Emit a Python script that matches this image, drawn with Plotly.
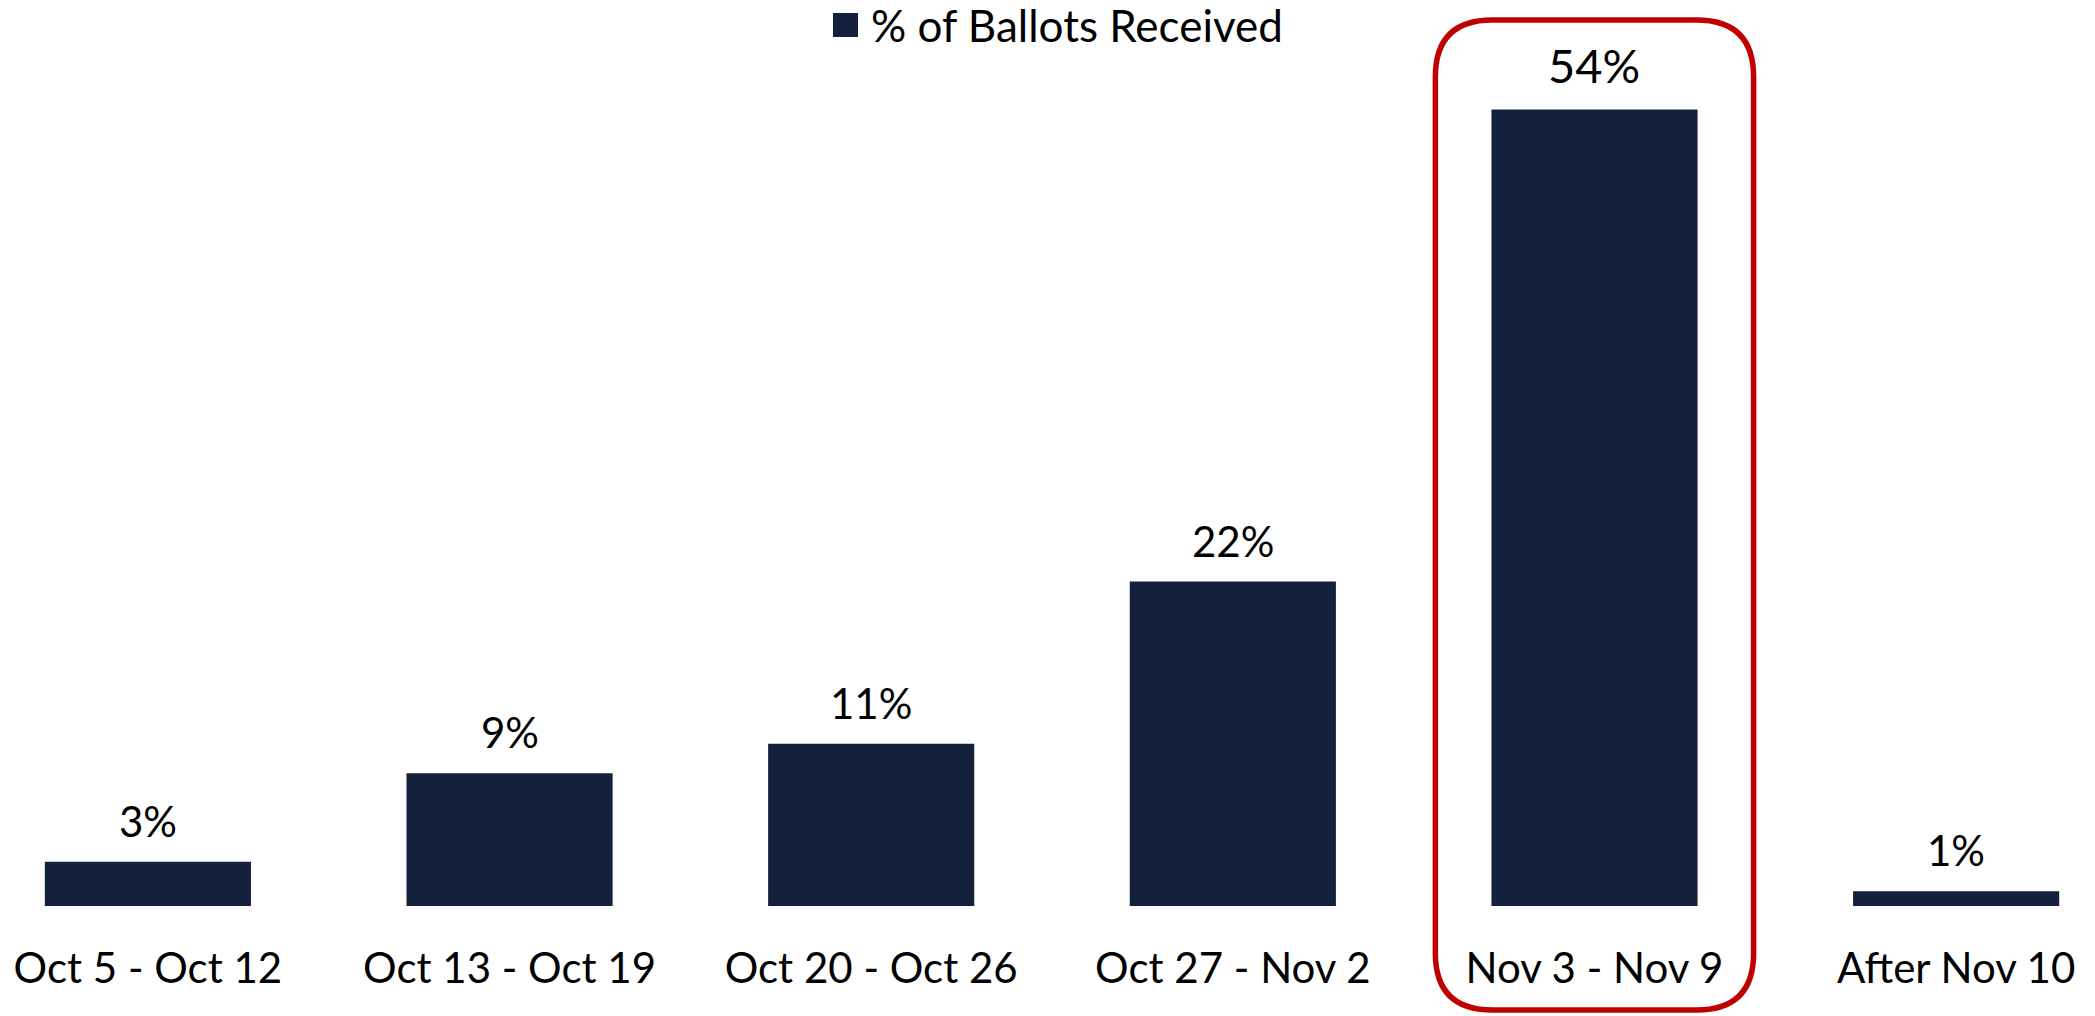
import plotly.graph_objects as go

categories = ["Oct 5 - Oct 12", "Oct 13 - Oct 19", "Oct 20 - Oct 26",
              "Oct 27 - Nov 2", "Nov 3 - Nov 9", "After Nov 10"]
pct_received = [3, 9, 11, 22, 54, 1]
series_name = "% of Ballots Received"
highlight_index = 4

W, H = 2095, 1016
T, B = 60, 110
BAR_COLOR = "#13213C"
RED = "#C00000"
FONT = "Lato"
FS = 42

def xp(px):
    return px / W

def yp(py):
    return (H - B - py) / (H - T - B)

idx = list(range(len(categories)))

fig = go.Figure()
fig.add_trace(go.Bar(
    x=idx, y=pct_received, name=series_name,
    marker=dict(color=BAR_COLOR, line=dict(width=0)),
    width=0.57, showlegend=False, hoverinfo="skip",
))

annotations = []
for i, v in zip(idx, pct_received):
    big = (i == highlight_index)
    annotations.append(dict(
        x=i, y=v, xref="x", yref="y", text=f"{v}%", showarrow=False,
        yanchor="bottom", xanchor="center", yshift=14 if not big else 15,
        font=dict(family=FONT, size=47 if big else FS, color="#000000"),
    ))

# manual legend
annotations.append(dict(
    x=xp(869), y=yp(25), xref="paper", yref="paper", text=series_name,
    showarrow=False, xanchor="left", yanchor="middle",
    font=dict(family=FONT, size=44, color="#000000"),
))
shapes = [dict(type="rect", xref="paper", yref="paper",
               x0=xp(833), x1=xp(858), y0=yp(37), y1=yp(13),
               fillcolor=BAR_COLOR, line=dict(width=0))]

# highlight rounded box around one category
cx = idx[highlight_index]
x0, x1 = cx - 0.44, cx + 0.44
y0, y1 = yp(1010), yp(20)
rx = 57 / 361.6
ry = 57 / (H - T - B)
path = (f"M {x0+rx},{y1} L {x1-rx},{y1} Q {x1},{y1} {x1},{y1-ry} "
        f"L {x1},{y0+ry} Q {x1},{y0} {x1-rx},{y0} "
        f"L {x0+rx},{y0} Q {x0},{y0} {x0},{y0+ry} "
        f"L {x0},{y1-ry} Q {x0},{y1} {x0+rx},{y1} Z")
shapes.append(dict(type="path", xref="x", yref="paper", path=path,
                   line=dict(color=RED, width=5.5), fillcolor="rgba(0,0,0,0)"))

fig.update_layout(
    width=W, height=H,
    margin=dict(l=0, r=0, t=T, b=B, pad=0),
    paper_bgcolor="white", plot_bgcolor="white",
    font=dict(family=FONT, size=FS, color="#000000"),
    annotations=annotations, shapes=shapes,
    xaxis=dict(range=[-0.409, 5.384], tickmode="array", tickvals=idx,
               ticktext=categories, showgrid=False, zeroline=False,
               showline=False, ticks="", ticklabelstandoff=34,
               tickfont=dict(family=FONT, size=FS, color="#000000")),
    yaxis=dict(range=[0, (H - T - B) / 14.75], visible=False,
               showgrid=False, zeroline=False),
    showlegend=False,
)

fig.write_html("out.html", config={"displayModeBar": False},
               post_script="document.body.style.margin='0px';")
